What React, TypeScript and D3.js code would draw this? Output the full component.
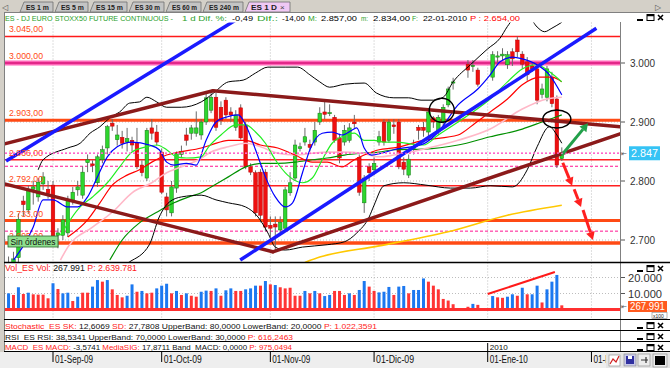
import React from "react";
import * as d3 from "d3";

// Slot index 0 = 01-Sep-09 (weekday slots, holidays left empty)
const FIRST_SLOT = -9;

// [open, high, low, close]
const candles: ([number, number, number, number] | null)[] = [
  [2655, 2672, 2640, 2648], [2650, 2680, 2630, 2668], [2670, 2745, 2660, 2735], [2766, 2775, 2740, 2760],
  [2751, 2792, 2745, 2785], [2786, 2800, 2760, 2790], [2773, 2805, 2765, 2798], [2795, 2815, 2785, 2807],
  [2786, 2800, 2770, 2779],
  [2793, 2800, 2700, 2705], [2708, 2720, 2686, 2712], [2708, 2742, 2700, 2734], [2712, 2775, 2705, 2768],
  [2766, 2790, 2760, 2781], [2785, 2800, 2775, 2790], [2776, 2825, 2770, 2815], [2831, 2845, 2815, 2836],
  [2829, 2835, 2815, 2826], [2797, 2845, 2790, 2841], [2836, 2860, 2830, 2853], [2856, 2895, 2845, 2892],
  [2898, 2905, 2885, 2893], [2870, 2895, 2860, 2878], [2874, 2885, 2855, 2864], [2866, 2890, 2850, 2872],
  [2869, 2875, 2850, 2861], [2864, 2890, 2820, 2824], [2827, 2835, 2808, 2814], [2805, 2890, 2800, 2886],
  [2890, 2905, 2870, 2881], [2883, 2895, 2860, 2866], [2849, 2855, 2778, 2781], [2773, 2780, 2740, 2751],
  [2746, 2800, 2740, 2790], [2788, 2850, 2780, 2847], [2845, 2860, 2840, 2850], [2878, 2890, 2860, 2869],
  [2881, 2895, 2870, 2890], [2881, 2918, 2875, 2890], [2878, 2905, 2870, 2900], [2900, 2950, 2895, 2941],
  [2920, 2950, 2915, 2942], [2942, 2950, 2885, 2891], [2925, 2935, 2895, 2903], [2937, 2942, 2905, 2912],
  [2917, 2925, 2900, 2912], [2891, 2920, 2885, 2912], [2924, 2930, 2870, 2873], [2895, 2900, 2820, 2824],
  [2824, 2830, 2810, 2815], [2814, 2818, 2740, 2746], [2815, 2820, 2730, 2742], [2815, 2820, 2715, 2722],
  [2725, 2740, 2705, 2720], [2727, 2740, 2683, 2722], [2717, 2740, 2710, 2730], [2720, 2790, 2715, 2785],
  [2780, 2815, 2775, 2797], [2805, 2870, 2800, 2861], [2855, 2865, 2850, 2858], [2866, 2890, 2860, 2875],
  [2862, 2870, 2850, 2857], [2866, 2900, 2860, 2886], [2900, 2925, 2895, 2915], [2917, 2935, 2905, 2913],
  [2915, 2930, 2910, 2916], [2908, 2912, 2865, 2869], [2873, 2880, 2830, 2839], [2866, 2895, 2860, 2886],
  [2869, 2898, 2865, 2890], [2900, 2912, 2890, 2897], [2840, 2845, 2775, 2781], [2763, 2810, 2746, 2805],
  [2824, 2830, 2800, 2814], [2819, 2840, 2810, 2830], [2866, 2885, 2860, 2875], [2900, 2905, 2860, 2866],
  [2869, 2905, 2865, 2900], [2895, 2905, 2880, 2892], [2900, 2905, 2820, 2824], [2832, 2840, 2810, 2820],
  [2810, 2845, 2805, 2837], [2855, 2870, 2845, 2858], [2891, 2895, 2870, 2886], [2891, 2900, 2875, 2886],
  [2883, 2920, 2875, 2917], [2907, 2910, 2890, 2900], [2883, 2912, 2878, 2908], [2900, 2930, 2890, 2925],
  [2929, 2960, 2925, 2956], [2966, 2975, 2955, 2968], null, null,
  [2998, 3005, 2975, 2988], [2995, 3005, 2985, 2996], [2988, 2992, 2960, 2964], null, null,
  [2976, 3020, 2970, 3014], [3010, 3020, 3000, 3012], [3012, 3025, 3005, 3015], [2997, 3020, 2990, 3014],
  [3019, 3025, 2995, 3007], [3039, 3045, 3010, 3019], [3015, 3020, 2990, 2998], [3002, 3010, 2970, 2980],
  [2995, 3000, 2985, 2990], [2990, 2995, 2930, 2937], [2947, 2965, 2940, 2956], [2942, 2995, 2935, 2990],
  [2976, 2985, 2925, 2931], [2939, 2945, 2822, 2827], [2838, 2857, 2834, 2847],
];

const volumes: (number | null)[] = [
  10100, 9100, 13900, 9700, 10500, 9500, 9300, 9300, 7000,
  16400, 12800, 10100, 10500, 5300, 8000, 10500, 10500, 14300, 18400, 17400, 18400, 12600, 9100, 7600, 8600,
  15700, 11100, 11600, 10100, 10500, 13200, 14900, 16100, 10100, 11600, 9100, 10100, 8600, 8000, 11100, 11800,
  11600, 13200, 8600, 12000, 13200, 11600, 11600, 12600, 13200, 14900, 14900, 17800, 15700, 15300, 13900, 13200,
  13600, 8600, 8600, 11600, 10100, 11600, 10100, 8400, 9100, 11600, 11600, 9100, 10100, 9100, 12200, 17800,
  14300, 11600, 10700, 11100, 14100, 9100, 14300, 14700, 10100, 12200, 12200, 19400, 17400, 14900, 12600, 6600,
  5600, 3300, null, null, 1700, 3500, 2900, null, null, 8400, 7600, 7300, 8000, 9500, 8600, 13600,
  9500, 9500, 14900, 4400, 12600, 17400, 21600, 2600,
];
const volumeUp: (number | null)[] = [
  1, 0, 1, 0, 1, 0, 0, 0, 0,
  1, 0, 1, 1, 0, 1, 0, 0, 1, 1, 0, 1, 0, 0, 0, 1,
  1, 0, 1, 0, 0, 1, 1, 1, 0, 1, 0, 1, 0, 0, 1, 1,
  0, 1, 0, 1, 1, 0, 0, 1, 1, 1, 0, 1, 0, 1, 0, 0,
  0, 0, 0, 1, 0, 1, 0, 1, 1, 0, 0, 0, 1, 0, 1, 1,
  0, 0, 1, 1, 1, 0, 1, 1, 0, 1, 1, 1, 0, 0, 0, 0,
  0, 0, null, null, 0, 1, 0, null, null, 1, 0, 0, 1, 1, 0, 1,
  0, 1, 1, 0, 1, 1, 1, 0,
];

const dateTickSlots = [0, 22, 44, 65, 88, 109];
const dateTickLabels = ["01-Sep-09", "01-Oct-09", "01-Nov-09", "01-Dic-09", "01-Ene-10", "01-Feb-10"];
const priceTicks = [2700, 2800, 2900, 3000];
const volumeTicks = [10000, 20000];
const levelPrices = [3045, 3000, 2903, 2836, 2792, 2733, 2695];
const dashedLevelPrices = [2825, 2715];
const lastPrice = 2847;

// [slot, price]
const maBlue = [[-8, 2666], [-4, 2722], [-2, 2768], [0, 2768], [3, 2756], [5, 2756], [7, 2773], [9, 2807], [11, 2841], [13, 2858], [16, 2866], [19.5, 2861], [21.5, 2853], [23, 2832], [24.5, 2827], [27, 2830], [29, 2827], [31, 2869], [33, 2900], [35, 2908], [37.5, 2912], [39, 2895], [41, 2853], [43, 2807], [45, 2773], [47, 2756], [48.5, 2763], [50.5, 2814], [52, 2853], [54.5, 2881], [56.5, 2883], [58.5, 2878], [60.5, 2886], [61.5, 2890], [63, 2856], [64.5, 2844], [66.5, 2847], [69, 2853], [75, 2863], [78, 2883], [82, 2929], [86, 2956], [88.5, 2980], [90.5, 3002], [93, 3010], [95, 3007], [98, 2997], [100.5, 2980], [103, 2946]];
const maGreen = [[1.5, 2708], [5.5, 2756], [8, 2773], [11, 2797], [13.5, 2824], [16, 2849], [19, 2858], [21, 2861], [23, 2853], [25, 2841], [27, 2839], [30, 2841], [31.5, 2858], [34, 2878], [37, 2895], [39, 2895], [41, 2883], [43, 2864], [45, 2836], [47.5, 2810], [50.5, 2797], [52.5, 2805], [54.5, 2836], [56.5, 2864], [58.5, 2875], [61, 2881], [63, 2869], [65, 2869], [67, 2866], [69, 2866], [75, 2861], [78, 2878], [82, 2900], [85, 2917], [88.5, 2939], [92, 2968], [95, 2990], [98, 2997], [100.5, 2985], [103, 2968]];
const maRed = [[3, 2705], [7, 2734], [9.5, 2763], [12, 2793], [15, 2810], [17.5, 2819], [20, 2832], [23, 2844], [25.5, 2849], [30, 2856], [32, 2861], [35.5, 2869], [39, 2869], [42, 2861], [45.5, 2856], [49, 2844], [52.5, 2832], [55.5, 2832], [58.5, 2824], [61, 2836], [63, 2844], [66, 2853], [69, 2856], [75, 2869], [82, 2878], [85, 2895], [88.5, 2917], [92, 2939], [95, 2963], [98.5, 2976], [101, 2976], [103, 2968]];
const maPink = [[1.5, 2666], [3, 2688], [8, 2722], [12, 2747], [16, 2780], [20, 2797], [23, 2814], [26, 2824], [29.5, 2836], [32, 2849], [35.5, 2858], [39, 2864], [42, 2858], [45.5, 2847], [49, 2844], [52.5, 2847], [55.5, 2849], [59, 2849], [62.5, 2847], [66, 2841], [69, 2844], [75, 2854], [82, 2869], [88.5, 2888], [95, 2922], [100, 2939], [103, 2942]];
const maDarkGreen = [[11.5, 2666], [14, 2700], [17.5, 2729], [21, 2747], [24.5, 2763], [27.5, 2773], [30, 2780], [32, 2790], [35.5, 2807], [39, 2824], [42.5, 2830], [45.5, 2830], [49, 2832], [52.5, 2836], [55.5, 2839], [59, 2844], [62.5, 2847], [66, 2849], [69, 2853], [75, 2854], [82, 2861], [88.5, 2875], [95, 2888], [99, 2900], [103, 2912]];
const maYellow = [[51, 2662], [54, 2671], [66, 2690], [80, 2714], [92, 2742], [103, 2759]];
const bbUpper = [[-3, 2819], [-2, 2836], [3, 2856], [5.5, 2864], [7.5, 2881], [9.5, 2892], [11.5, 2907], [13.5, 2917], [15.5, 2932], [17.5, 2934], [19, 2942], [21, 2934], [23, 2925], [26, 2925], [30, 2934], [32.5, 2949], [35.5, 2968], [38.5, 2971], [41, 2983], [43.5, 2993], [47, 2993], [49.5, 2993], [52, 2980], [54, 2968], [56, 2959], [59, 2964], [63, 2966], [65.5, 2949], [69, 2941], [72, 2941], [74.5, 2937], [77, 2937], [79, 2942], [81, 2968], [84.5, 2997], [88, 3024], [90.5, 3042], [92, 3062], [94, 3080], [96.5, 3076], [98, 3061], [99.5, 3053], [101, 3059], [103, 3069]];
const bbLower = [[10.5, 2649], [15.5, 2663], [19.5, 2692], [21.5, 2739], [23.5, 2764], [26, 2773], [30, 2776], [33, 2768], [35.5, 2763], [39, 2756], [41.5, 2739], [43.5, 2712], [45, 2688], [47, 2683], [50.5, 2688], [55.5, 2692], [59, 2697], [61.5, 2712], [64, 2739], [65, 2759], [67, 2792], [71, 2797], [75.5, 2793], [80.5, 2788], [84.5, 2788], [88.5, 2792], [93, 2790], [96, 2819], [98, 2858], [100.5, 2892], [102, 2878], [103, 2864]];

const blueTrendlines = [[[-9.5, 2834], [38, 3078]], [[37.9, 2666], [110, 3059]]];
const brownTrendlines = [[[-10.7, 2861], [32.4, 2953]], [[32.4, 2953], [114.8, 2892]], [[-10.7, 2797], [44.5, 2680]], [[44.5, 2680], [114.8, 2880]]];
const circleCenters = [[78.7, 2920], [102, 2905]];
const upArrow = [[103, 2844], [108.3, 2898]];
const downArrows = [[[103.2, 2831], [105.1, 2792]], [[105.5, 2786], [106.9, 2756]], [[107.3, 2751], [109.3, 2700]]];
const volumeTrend = [[88, 9700], [101.6, 23400]];

const tabLabels = ["ES 1 m", "ES 5 m", "ES 15 m", "ES 30 m", "ES 60 m", "ES 240 m", "ES 1 D"];

const loc = d3.formatLocale({ decimal: ",", thousands: ".", grouping: [3], currency: ["", ""] });
const f2 = loc.format(",.2f");
const f0 = loc.format(",.0f");

const FONT = "'Liberation Sans', Arial, sans-serif";

function Arrow({ x1, y1, x2, y2, color }: { x1: number; y1: number; x2: number; y2: number; color: string }) {
  const a = Math.atan2(y2 - y1, x2 - x1);
  const L = 8, Wd = 4.5;
  const bx = x2 - L * Math.cos(a), by = y2 - L * Math.sin(a);
  const px = -Math.sin(a) * Wd, py = Math.cos(a) * Wd;
  return (
    <g>
      <line x1={x1} y1={y1} x2={bx} y2={by} stroke={color} strokeWidth={3} />
      <polygon points={`${x2},${y2} ${bx + px},${by + py} ${bx - px},${by - py}`} fill={color} />
    </g>
  );
}

function Controls({ x, y }: { x: number; y: number }) {
  return (
    <g stroke="#000" fill="none" strokeWidth={1}>
      <line x1={x} y1={y + 6} x2={x + 6} y2={y + 6} strokeWidth={2} />
      <rect x={x + 10} y={y + 0.5} width={7} height={6} />
      <line x1={x + 10} y1={y + 1.5} x2={x + 17} y2={y + 1.5} strokeWidth={1.5} />
      <path d={`M${x + 21},${y + 1} l5,5 M${x + 26},${y + 1} l-5,5`} strokeWidth={1.5} />
    </g>
  );
}

export default function App() {
  const x = d3.scaleLinear().domain([0, 103]).range([53, 561.8]);
  const y = d3.scaleLinear().domain([2700, 3000]).range([240, 63]);
  const yv = d3.scaleLinear().domain([0, 20000]).range([309.5, 277.5]);
  const curve = d3.line<number[]>().x((d) => x(d[0])).y((d) => y(d[1])).curve(d3.curveMonotoneX);
  const seg = d3.line<number[]>().x((d) => x(d[0])).y((d) => y(d[1]));

  const L = 5, R = 620, T = 22.5, B = 262;

  const levelStyle = [
    { c: "#ff1a1a", w: 1.6 },
    { c: "#ff66b8", w: 5 },
    { c: "#ff4a14", w: 3 },
    { c: "#ff2020", w: 1.4 },
    { c: "#ff2020", w: 1.4 },
    { c: "#ff4a14", w: 3 },
    { c: "#ff4a14", w: 3.5 },
  ];

  const maStyles: [number[][], string, number][] = [
    [maYellow, "#ffc800", 1.6],
    [maDarkGreen, "#009000", 1.2],
    [maPink, "#ffb8c8", 1.6],
    [maRed, "#ff0000", 1.2],
    [maGreen, "#22ee22", 1.2],
    [maBlue, "#0000ff", 1.2],
    [bbUpper, "#000000", 1],
    [bbLower, "#000000", 1],
  ];

  const tabX = [[20, 53], [55, 88], [90, 127], [129, 164], [166, 201], [203, 243], [245, 290]];

  const green = "#2aa02a";
  const titleParts: [string, number, number, string, number][] = [
    ["ES - DJ EURO STOXX50 FUTURE CONTINUOUS -", 5, 168, green, 7],
    ["1 d Dif. %:", 182, 45, green, 8],
    ["-0,49", 232, 21, "#000", 8],
    ["Dif.:", 257, 21, green, 8],
    ["-14,00", 282, 23, "#000", 8],
    ["M:", 308, 9, green, 8],
    ["2.857,00", 321, 36, "#000", 8],
    ["m:", 361, 7, green, 8],
    ["2.834,00", 373, 37, "#000", 8],
    ["F:", 412, 6, green, 8],
    ["22-01-2010", 423, 44, "#000", 8],
    ["P : 2.654,00", 470, 50, "#ff0000", 8],
  ];

  return (
    <svg width={670} height={368} style={{ position: "absolute", left: 0, top: 0, display: "block" }} fontFamily={FONT}>
      <defs>
        <clipPath id="mainClip">
          <rect x={L} y={T} width={R - L} height={B - T} />
        </clipPath>
      </defs>
      <rect x={0} y={0} width={670} height={368} fill="#ffffff" />

      {/* tab bar */}
      <rect x={0} y={0} width={670} height={12} fill="#d4d0c8" />
      <text x={2} y={9.5} fontSize={8} fill="#555">◁</text>
      <text x={655} y={9.5} fontSize={8} fill="#555">▷</text>
      {tabLabels.map((t, k) => {
        const [a, b] = tabX[k];
        const active = k === tabLabels.length - 1;
        return (
          <g key={t}>
            <polygon points={`${a},12 ${a + 4},2 ${b},2 ${b},12`} fill={active ? "#f0c8f4" : "#c4c4c4"} stroke="#707070" strokeWidth={0.8} />
            <text x={a + 6} y={9.5} fontSize={7.5} fontWeight="bold" fill="#202020" textLength={active ? 26 : b - a - 10} lengthAdjust="spacingAndGlyphs">{t}</text>
            {active && <text x={b - 10} y={9.5} fontSize={8} fill="#444">×</text>}
          </g>
        );
      })}
      <line x1={0} y1={12.5} x2={670} y2={12.5} stroke="#808080" />

      {/* title */}
      {titleParts.map(([t, tx, tw, c, fs]) => (
        <text key={t + tx} x={tx} y={21} fontSize={fs} fill={c} textLength={tw} lengthAdjust="spacingAndGlyphs">{t}</text>
      ))}
      <Controls x={637} y={14} />

      {/* left frame */}
      <rect x={0} y={12} width={4} height={340} fill="#d4d0c8" />
      <line x1={4.5} y1={12} x2={4.5} y2={352} stroke="#808080" />

      {/* grid */}
      {dateTickSlots.map((s) => (
        <line key={"vg" + s} x1={x(s)} x2={x(s)} y1={T} y2={319} stroke="#bdbdbd" strokeDasharray="1,2" />
      ))}
      {priceTicks.map((p) => (
        <line key={"hg" + p} x1={L} x2={R} y1={y(p)} y2={y(p)} stroke="#bdbdbd" strokeDasharray="1,2" />
      ))}

      <g clipPath="url(#mainClip)">
        {/* horizontal levels */}
        {levelPrices.map((p, k) => (
          <g key={"lv" + p}>
            <line x1={L} x2={R} y1={y(p)} y2={y(p)} stroke={levelStyle[k].c} strokeWidth={levelStyle[k].w} />
            {k === 1 && <line x1={L} x2={R} y1={y(p)} y2={y(p)} stroke="#d8147a" strokeWidth={1.6} />}
          </g>
        ))}
        {dashedLevelPrices.map((p) => (
          <line key={"dl" + p} x1={L} x2={R} y1={y(p)} y2={y(p)} stroke="#ff1493" strokeWidth={1} strokeDasharray="3,2" />
        ))}

        {/* candles */}
        {candles.map((c, k) => {
          if (!c) return null;
          const [o, h, l, cl] = c;
          const cx = x(k + FIRST_SLOT);
          const up = cl >= o;
          const top = y(Math.max(o, cl));
          const bot = y(Math.min(o, cl));
          return (
            <g key={"c" + k}>
              <line x1={cx} x2={cx} y1={y(h)} y2={y(l)} stroke="#6a6a6a" strokeWidth={1} />
              <rect x={cx - 1.8} y={top} width={3.6} height={Math.max(1.2, bot - top)} fill={up ? "#2ed62e" : "#ee1010"} stroke={up ? "#147a14" : "#c00000"} strokeWidth={0.5} />
            </g>
          );
        })}

        {/* moving averages & bands */}
        {maStyles.map(([d, c, w], k) => (
          <path key={"ma" + k} d={curve(d) || ""} fill="none" stroke={c} strokeWidth={w} />
        ))}

        {/* current price line */}
        <line x1={L} x2={R} y1={y(lastPrice)} y2={y(lastPrice)} stroke="#ff66cc" strokeWidth={1.5} strokeDasharray="2,2" />

        {/* trendlines */}
        {brownTrendlines.map((d, k) => (
          <path key={"bt" + k} d={seg(d) || ""} stroke="#8b1a1a" strokeWidth={3.5} fill="none" strokeLinecap="round" />
        ))}
        {blueTrendlines.map((d, k) => (
          <path key={"blt" + k} d={seg(d) || ""} stroke="#1a1aff" strokeWidth={3.5} fill="none" />
        ))}

        {/* circles */}
        <ellipse cx={x(circleCenters[0][0])} cy={y(circleCenters[0][1])} rx={12.5} ry={12} fill="none" stroke="#000" strokeWidth={1.4} />
        <ellipse cx={x(circleCenters[1][0])} cy={y(circleCenters[1][1])} rx={14} ry={9} fill="none" stroke="#000" strokeWidth={1.4} />

        {/* arrows */}
        <Arrow x1={x(upArrow[0][0])} y1={y(upArrow[0][1])} x2={x(upArrow[1][0])} y2={y(upArrow[1][1])} color="#22a04a" />
        {downArrows.map((d, k) => (
          <Arrow key={"da" + k} x1={x(d[0][0])} y1={y(d[0][1])} x2={x(d[1][0])} y2={y(d[1][1])} color="#ff2020" />
        ))}
      </g>

      {/* level labels */}
      {levelPrices.map((p) => (
        <text key={"ll" + p} x={9} y={y(p) - 4} fontSize={9} fill="#ff4a14" textLength={34} lengthAdjust="spacingAndGlyphs">{f2(p)}</text>
      ))}
      <line x1={L} x2={R} y1={y(lastPrice)} y2={y(lastPrice)} stroke="#ff66cc" strokeWidth={1.2} strokeDasharray="2,2" clipPath="url(#mainClip)" />

      {/* Sin ordenes */}
      <rect x={8} y={236} width={50} height={11} fill="#8fe08f" stroke="#2a6a2a" strokeWidth={0.8} />
      <text x={10.5} y={245} fontSize={9} fill="#111" textLength={45} lengthAdjust="spacingAndGlyphs">Sin órdenes</text>

      {/* right axis */}
      <rect x={620} y={22} width={50} height={330} fill="#ffffff" />
      <line x1={620.5} y1={22} x2={620.5} y2={352} stroke="#808080" />
      {priceTicks.map((p) => (
        <g key={"pt" + p}>
          <line x1={621} x2={625} y1={y(p)} y2={y(p)} stroke="#555" />
          <text x={630} y={y(p) + 4} fontSize={11} fill="#333" textLength={25} lengthAdjust="spacingAndGlyphs">{f0(p)}</text>
        </g>
      ))}
      <text x={621} y={y(lastPrice) + 3} fontSize={7} fill="#555">⇤</text>
      <rect x={629} y={y(lastPrice) - 7} width={31} height={14} fill="#35c3f5" />
      <text x={631} y={y(lastPrice) + 4} fontSize={11} fill="#ffffff" textLength={27} lengthAdjust="spacingAndGlyphs">{f0(lastPrice)}</text>

      {/* panel borders */}
      <line x1={4} x2={670} y1={262.5} y2={262.5} stroke="#000" strokeWidth={1.3} />

      {/* volume panel */}
      {volumeTicks.map((v) => (
        <g key={"vt" + v}>
          <line x1={L} x2={R} y1={yv(v)} y2={yv(v)} stroke="#bdbdbd" strokeDasharray="1,2" />
          <line x1={621} x2={625} y1={yv(v)} y2={yv(v)} stroke="#555" />
          <text x={628} y={yv(v) + 4} fontSize={11} fill="#333" textLength={34} lengthAdjust="spacingAndGlyphs">{f0(v)}</text>
        </g>
      ))}
      {volumes.map((v, k) => {
        if (v == null) return null;
        const cx = x(k + FIRST_SLOT);
        return <rect key={"v" + k} x={cx - 1.5} y={yv(v)} width={3} height={yv(0) - yv(v)} fill={volumeUp[k] ? "#1c78f0" : "#ff3434"} />;
      })}
      <line x1={L} x2={R} y1={yv(0)} y2={yv(0)} stroke="#ff3030" strokeWidth={3} />
      <line x1={x(volumeTrend[0][0])} y1={yv(volumeTrend[0][1])} x2={x(volumeTrend[1][0])} y2={yv(volumeTrend[1][1])} stroke="#ff1a1a" strokeWidth={2} />
      <text x={5} y={270.5} fontSize={8.5} textLength={132} lengthAdjust="spacingAndGlyphs">
        <tspan fill="#ff1a1a">Vol_ES Vol: </tspan>
        <tspan fill="#111">267.991 </tspan>
        <tspan fill="#ff1a1a">P: 2.639.781</tspan>
      </text>
      <Controls x={637} y={265} />
      <text x={621} y={309} fontSize={7} fill="#555">⇤</text>
      <rect x={628} y={301} width={39} height={11} fill="#ff5a1e" />
      <text x={630} y={310} fontSize={10} fill="#fff" textLength={35} lengthAdjust="spacingAndGlyphs">267.991</text>
      <rect x={652} y={312.5} width={15} height={6} fill="#fff" stroke="#888" strokeWidth={0.6} />
      <text x={653} y={317.8} fontSize={5} fill="#222">x100</text>

      {/* indicator rows */}
      <line x1={4} x2={670} y1={319.5} y2={319.5} stroke="#000" />
      <text x={5} y={328.5} fontSize={8} textLength={372} lengthAdjust="spacingAndGlyphs">
        <tspan fill="#ff1a1a">Stochastic_ES SK: </tspan>
        <tspan fill="#111">12,6069 </tspan>
        <tspan fill="#ff1a1a">SD: </tspan>
        <tspan fill="#111">27,7808 UpperBand: 80,0000 LowerBand: 20,0000 </tspan>
        <tspan fill="#ff1a1a">P: 1.022,3591</tspan>
      </text>
      <Controls x={637} y={322} />
      <line x1={4} x2={670} y1={330.5} y2={330.5} stroke="#000" />
      <text x={5} y={339.5} fontSize={8} textLength={288} lengthAdjust="spacingAndGlyphs">
        <tspan fill="#111">RSI_ES RSI: 38,5341 UpperBand: 70,0000 LowerBand: 30,0000 </tspan>
        <tspan fill="#ff1a1a">P: 616,2463</tspan>
      </text>
      <Controls x={637} y={333} />
      <line x1={4} x2={670} y1={341.5} y2={341.5} stroke="#000" />
      <text x={5} y={350} fontSize={8} textLength={287} lengthAdjust="spacingAndGlyphs">
        <tspan fill="#ff1a1a">MACD_ES MACD: </tspan>
        <tspan fill="#111">-3,5741 </tspan>
        <tspan fill="#ff1a1a">MediaSIG: </tspan>
        <tspan fill="#111">17,8711 Band_MACD: 0,0000 </tspan>
        <tspan fill="#ff1a1a">P: 975,0494</tspan>
      </text>
      <Controls x={637} y={344} />
      <line x1={4} x2={670} y1={351.5} y2={351.5} stroke="#000" />

      {/* date axis */}
      <rect x={0} y={352} width={670} height={16} fill="#eeeeee" />
      {dateTickSlots.map((s, k) => (
        <g key={"dt" + s}>
          <line x1={x(s)} x2={x(s)} y1={k === 4 ? 343 : 352} y2={362} stroke="#000" />
          <text x={x(s) + 2} y={363} fontSize={10} fill="#111" textLength={38} lengthAdjust="spacingAndGlyphs">{dateTickLabels[k]}</text>
        </g>
      ))}
      <text x={x(88) + 2} y={349.5} fontSize={8} fill="#111" textLength={18} lengthAdjust="spacingAndGlyphs">2010</text>

      {/* bottom-right icons */}
      <rect x={606} y={353} width={64} height={15} fill="#e4e4e4" />
      <rect x={609} y={355} width={11} height={11} fill="#fff" stroke="#888" strokeWidth={0.6} />
      <path d="M610,364 L613,359 L616,362 L619,356" stroke="#d02020" strokeWidth={1.2} fill="none" />
      <rect x={624} y={354} width={12} height={12} fill="#c8c8e8" stroke="#888" strokeWidth={0.6} />
      <rect x={626} y={356} width={8} height={8} fill="#3030a0" />
      <rect x={628} y={356} width={4} height={3} fill="#fff" />
      <rect x={638} y={354} width={12} height={12} fill="#ececec" stroke="#888" strokeWidth={0.6} />
      <path d="M641,360 L648,360 M646,357 L646,363" stroke="#333" strokeWidth={1.2} />
      <rect x={653} y={354} width={14} height={13} fill="#ececec" stroke="#888" strokeWidth={0.6} />
      <rect x={655} y={356} width={10} height={9} fill="#000" />
    </svg>
  );
}
